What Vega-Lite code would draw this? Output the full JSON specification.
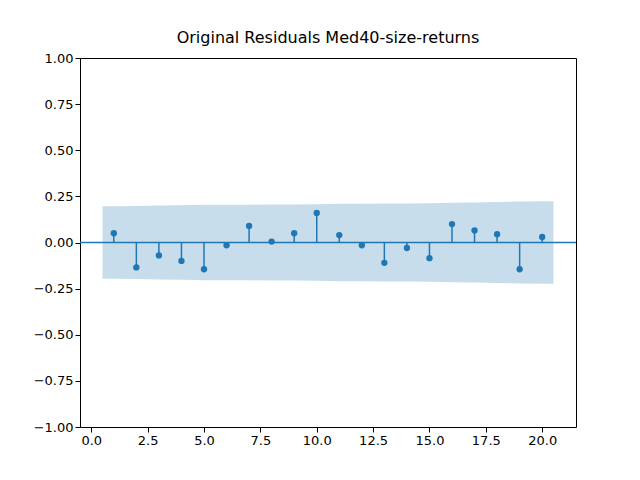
{
"$schema":"https://vega.github.io/schema/vega-lite/v6.json",
"width":496,"height":369,
"autosize":{"type":"none"},
"padding":{"left":80,"top":58,"right":64,"bottom":53},
"title":{"text":"Original Residuals Med40-size-returns","font":"DejaVu Sans","fontSize":16,"fontWeight":"normal","offset":6},
"config":{"view":{"stroke":"black"},"axis":{"labelFont":"DejaVu Sans","labelFontSize":13,"labelColor":"black","tickColor":"black","domain":false,"grid":false,"tickSize":5}},
"datasets":{
"acf":[{"lag":1,"v":0.05},{"lag":2,"v":-0.135},{"lag":3,"v":-0.07},{"lag":4,"v":-0.1},{"lag":5,"v":-0.145},{"lag":6,"v":-0.015},{"lag":7,"v":0.09},{"lag":8,"v":0.005},{"lag":9,"v":0.05},{"lag":10,"v":0.16},{"lag":11,"v":0.04},{"lag":12,"v":-0.015},{"lag":13,"v":-0.11},{"lag":14,"v":-0.03},{"lag":15,"v":-0.085},{"lag":16,"v":0.1},{"lag":17,"v":0.065},{"lag":18,"v":0.045},{"lag":19,"v":-0.145},{"lag":20,"v":0.03}],
"band":[{"lag":0.5,"u":0.196},{"lag":1,"u":0.196},{"lag":2,"u":0.198},{"lag":3,"u":0.2},{"lag":4,"u":0.202},{"lag":5,"u":0.204},{"lag":6,"u":0.205},{"lag":7,"u":0.205},{"lag":8,"u":0.206},{"lag":9,"u":0.206},{"lag":10,"u":0.207},{"lag":11,"u":0.21},{"lag":12,"u":0.21},{"lag":13,"u":0.211},{"lag":14,"u":0.212},{"lag":15,"u":0.213},{"lag":16,"u":0.215},{"lag":17,"u":0.217},{"lag":18,"u":0.219},{"lag":19,"u":0.222},{"lag":20,"u":0.223},{"lag":20.5,"u":0.223}]
},
"layer":[
{"data":{"name":"band"},"mark":{"type":"area","color":"#1f77b4","opacity":0.25},
 "transform":[{"calculate":"-datum.u","as":"l"}],
 "encoding":{"x":{"field":"lag","type":"quantitative","scale":{"domain":[-0.5,21.5],"nice":false,"zero":false},"axis":{"values":[0,2.5,5,7.5,10,12.5,15,17.5,20],"format":".1f","title":null}},
 "y":{"field":"u","type":"quantitative","scale":{"domain":[-1,1],"nice":false},"axis":{"values":[-1,-0.75,-0.5,-0.25,0,0.25,0.5,0.75,1],"format":".2f","title":null}},"y2":{"field":"l"}}},
{"data":{"values":[{"y":0}]},"mark":{"type":"rule","color":"#1f77b4","strokeWidth":1.5},"encoding":{"y":{"field":"y","type":"quantitative"}}},
{"data":{"name":"acf"},"mark":{"type":"rule","color":"#1f77b4","strokeWidth":1.5},"transform":[{"calculate":"0","as":"z"}],
 "encoding":{"x":{"field":"lag","type":"quantitative"},"y":{"field":"v","type":"quantitative"},"y2":{"field":"z"}}},
{"data":{"name":"acf"},"mark":{"type":"point","filled":true,"color":"#1f77b4","opacity":1,"size":40},
 "encoding":{"x":{"field":"lag","type":"quantitative"},"y":{"field":"v","type":"quantitative"}}}
]
}
